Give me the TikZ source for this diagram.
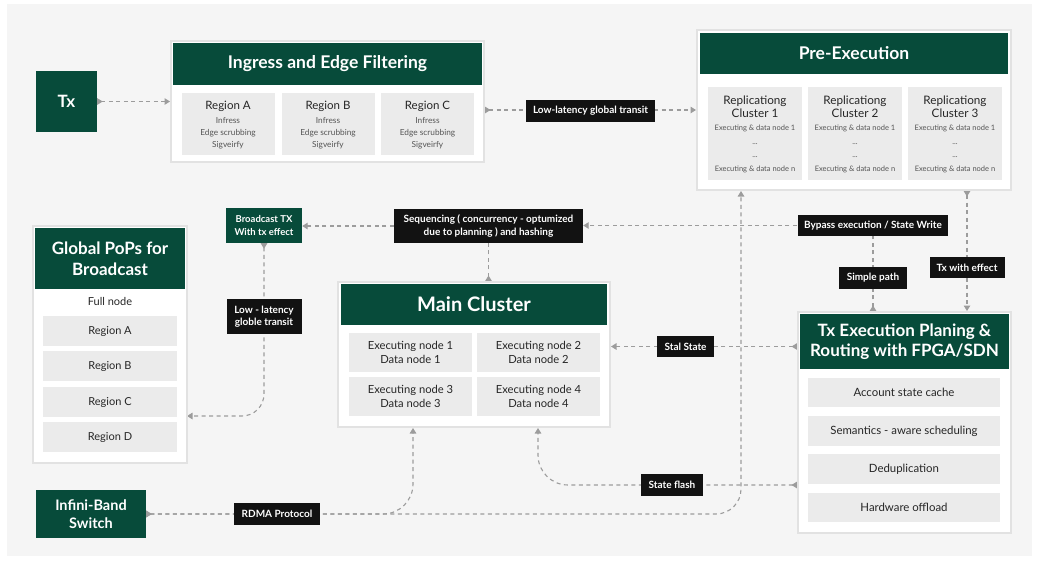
\documentclass[tikz,border=0pt]{standalone}
\usepackage{fontspec}
\setmainfont{Lato}
\usetikzlibrary{arrows.meta}
\definecolor{brand}{HTML}{074B3A}
\definecolor{paper}{HTML}{F5F5F5}
\definecolor{panelline}{HTML}{E2E2E2}
\definecolor{cellc}{HTML}{EBEBEB}
\definecolor{tagc}{HTML}{121212}
\definecolor{linec}{HTML}{9C9C9C}
\definecolor{ink}{HTML}{262626}
\definecolor{softink}{HTML}{555555}
\newcommand{\fsz}[2]{\fontsize{#1}{#2}\selectfont}
\pgfdeclarelayer{paperlayer}
\pgfdeclarelayer{bg}
\pgfsetlayers{paperlayer,bg,main}
\tikzset{
  Arr/.tip={Triangle[width=6.5pt,length=5.5pt]},
  RevArr/.tip={Triangle[reversed,width=6.5pt,length=5.5pt]},
  conn/.style={draw=linec, line width=1.1pt, dash pattern=on 4pt off 3.5pt},
  both/.style={RevArr-Arr},
  fwd/.style={-Arr},
  startonly/.style={RevArr-},
  panel/.style={draw=panelline, line width=2pt, fill=white, inner sep=0pt},
  head/.style={fill=brand, text=white, inner sep=0pt, align=center},
  greenbox/.style={fill=brand, text=white, inner sep=0pt, align=center},
  cell/.style={fill=cellc, text=ink, inner sep=0pt, align=center},
  txt/.style={text=ink, inner sep=0pt, align=center},
  subtxt/.style={text=softink, inner sep=0pt, align=center},
  tagbox/.style={fill=tagc, text=white, inner sep=0pt, align=center, font=\fsz{10}{12.5}\bfseries},
}
\begin{document}
\begin{tikzpicture}[x=1pt,y=-1pt]
\useasboundingbox (0,0) rectangle (1039,563);
\begin{pgfonlayer}{paperlayer}
  \fill[white] (0,0) rectangle (1039,563);
  \fill[paper] (7,4) rectangle (1032,556);
\end{pgfonlayer}

% --- source transaction
\node[greenbox, minimum width=61, minimum height=61, font=\fsz{17}{20}\bfseries] (tx) at (66.5,101.5) {Tx};

% --- ingress and edge filtering
\node[panel, minimum width=313, minimum height=121] (ingress) at (327.5,101.5) {};
\node[head, minimum width=309, minimum height=42, font=\fsz{17.5}{21}\bfseries] (ingresshead) at (327.5,64) {Ingress and Edge Filtering};
\foreach \x/\l in {228/A,328/B,427.5/C} {
  \node[cell, minimum width=93, minimum height=62] (reg\l) at (\x,124) {};
  \node[txt, font=\fsz{11.5}{13}] (reg\l t) at (\x,106) {Region \l};
  \node[subtxt, font=\fsz{8.3}{12.2}] (reg\l s) at (\x,133) {Infress\\Edge scrubbing\\Sigveirfy};
}

% --- pre-execution
\node[panel, minimum width=314, minimum height=160] (pre) at (854,110) {};
\node[head, minimum width=308, minimum height=41, font=\fsz{17.5}{21}\bfseries] (prehead) at (854,53.5) {Pre-Execution};
\foreach \x/\n in {755/1,855/2,955/3} {
  \node[cell, minimum width=94, minimum height=93] (clu\n) at (\x,133.5) {};
  \node[txt, font=\fsz{11.7}{13.3}] (clu\n t) at (\x,106.7) {Replicationg\\Cluster \n};
  \node[subtxt, font=\fsz{7.5}{13.5}] (clu\n s) at (\x,148.7) {Executing \& data node 1\\...\\...\\Executing \& data node n};
}
\node[tagbox, minimum width=129, minimum height=22] (transit) at (590.5,111) {Low-latency global transit};

% --- global points of presence
\node[panel, minimum width=154, minimum height=237] (pops) at (110,344.5) {};
\node[head, minimum width=150, minimum height=61, font=\fsz{17}{21}\bfseries] (popshead) at (110,258.5) {Global PoPs for\\Broadcast};
\node[txt, font=\fsz{11}{13}] (fullnode) at (110,301) {Full node};
\foreach \y/\l in {331/A,366/B,402/C,437/D} {
  \node[cell, minimum width=134, minimum height=30, font=\fsz{11}{13}] (pop\l) at (110,\y) {Region \l};
}
\coordinate (popsin) at (187,416);

% --- broadcast and sequencing
\node[greenbox, minimum width=76, minimum height=35, font=\fsz{9.5}{12.5}\bfseries] (bcast) at (264,225.5) {Broadcast TX\\With tx effect};
\node[tagbox, minimum width=75, minimum height=35] (globle) at (264,316.5) {Low - latency\\globle transit};
\node[tagbox, minimum width=189, minimum height=34] (seq) at (488.5,226) {Sequencing ( concurrency - optumized\\due to planning ) and hashing};

% --- main cluster
\node[panel, minimum width=272, minimum height=145] (main) at (474,354.5) {};
\node[head, minimum width=266, minimum height=41, font=\fsz{20}{24}\bfseries] (mainhead) at (474,304.5) {Main Cluster};
\foreach \x/\y/\n in {410.5/352.5/1,538.5/352.5/2,410.5/396.5/3,538.5/396.5/4} {
  \node[cell, minimum width=123, minimum height=39, font=\fsz{11.2}{14}] (mc\n) at (\x,\y) {Executing node \n\\Data node \n};
}

% --- execution planning and routing
\node[panel, minimum width=213, minimum height=221] (exec) at (904.5,422.5) {};
\node[head, minimum width=209, minimum height=55, font=\fsz{17}{20.5}\bfseries] (exechead) at (904.5,341.5) {Tx Execution Planing \&\\Routing with FPGA/SDN};
\foreach \y/\n/\t in {392.5/1/Account state cache,431/2/Semantics - aware scheduling,469/3/Deduplication,507.5/4/Hardware offload} {
  \node[cell, minimum width=192, minimum height=29.5, font=\fsz{11.4}{13}] (ex\n) at (904,\y) {\t};
}

% --- connector labels on the right side
\node[tagbox, minimum width=150, minimum height=21] (bypass) at (873,225.5) {Bypass execution / State Write};
\node[tagbox, minimum width=68, minimum height=22] (simple) at (873,278) {Simple path};
\node[tagbox, minimum width=75, minimum height=21] (txeff) at (967,267.5) {Tx with effect};
\node[tagbox, minimum width=57, minimum height=21] (stal) at (685.5,346.5) {Stal State};
\node[tagbox, minimum width=62, minimum height=22] (flash) at (672,485) {State flash};
\coordinate (flashturn) at (538,485);

% --- interconnect
\node[greenbox, minimum width=110, minimum height=48, font=\fsz{14.5}{17.5}\bfseries] (ib) at (91,514) {Infini-Band\\Switch};
\node[tagbox, minimum width=86, minimum height=22] (rdma) at (277,514) {RDMA Protocol};
\coordinate (rdmaup) at (413,514);
\coordinate (rdmaturn) at (741,514);

\begin{pgfonlayer}{bg}
  \draw[conn, both] (tx.east) -- (ingress.west);
  \draw[conn, both] (ingress.east |- pre.west) -- (pre.west);
  \draw[conn, both] (exec.north -| simple) -- (bypass.center) -- (seq.east |- bypass.center);
  \draw[conn, fwd] (seq.west) -- (seq.west -| bcast.east);
  \draw[conn, startonly] (main.north -| seq) -- (seq.south);
  \draw[conn, both, rounded corners=22pt] (bcast.south) -- (bcast.south |- popsin) -- (popsin);
  \draw[conn, both] (pre.south -| txeff) -- (exec.north -| txeff);
  \draw[conn, both] (exec.west |- stal) -- (main.east |- stal);
  \draw[conn, both, rounded corners=30pt] (exec.west |- flash) -- (flashturn) -- (main.south -| flashturn);
  \draw[conn, both, rounded corners=30pt] (ib.east) -- (rdmaup) -- (main.south -| rdmaup);
  \draw[conn, both, rounded corners=25pt] (ib.east) -- (rdmaturn) -- (pre.south -| rdmaturn);
\end{pgfonlayer}
\end{tikzpicture}
\end{document}
